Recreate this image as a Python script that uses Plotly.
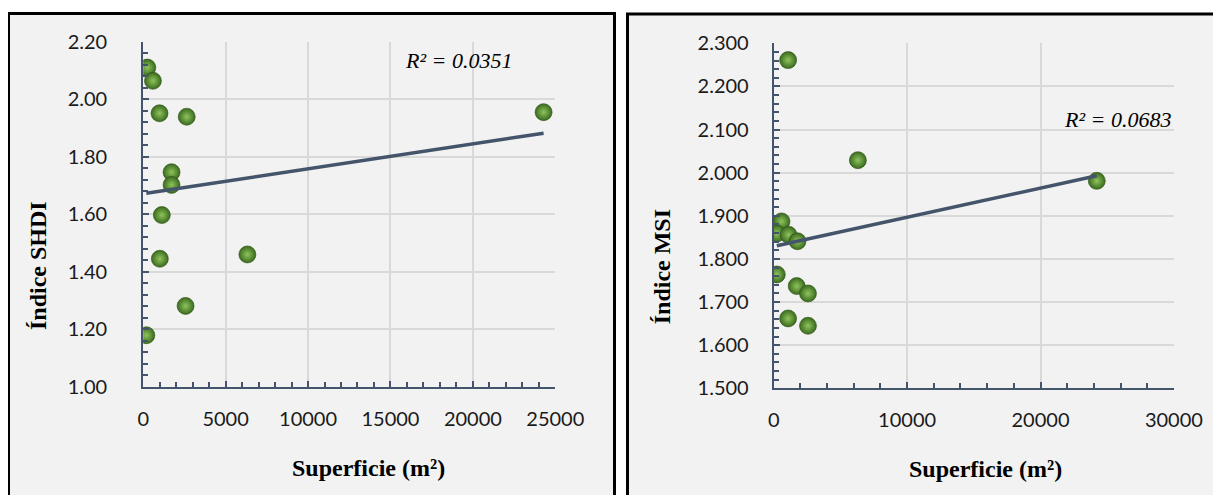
import numpy as np
import plotly.graph_objects as go

# ---- data ----
shdi_area = [250, 590, 990, 2640, 24290, 1720, 1720, 1130, 1010, 6320, 2570, 190]
shdi_value = [2.110, 2.064, 1.951, 1.939, 1.955, 1.746, 1.702, 1.597, 1.445, 1.460, 1.281, 1.179]
shdi_r2 = "R² = 0.0351"

msi_area = [1081, 6310, 24220, 584, 234, 1110, 1782, 234, 1724, 2570, 1081, 2570]
msi_value = [2.261, 2.029, 1.981, 1.887, 1.859, 1.856, 1.841, 1.764, 1.737, 1.720, 1.662, 1.645]
msi_r2 = "R² = 0.0683"

x_title = "Superficie (m²)"
y_title_left = "Índice SHDI"
y_title_right = "Índice MSI"

# page body has an 8px margin; size the figure to fit the 1221x495 window
OFF = 8
FW, FH = 1221 - OFF, 495 - OFF


def xp(px):
    return (px - OFF) / FW


def yp(py):
    return 1 - (py - OFF) / FH


AXIS = "#44546a"
GRID = "#d9d9d9"
BG = "#f2f2f2"
TICKFONT = dict(family="Lato, Carlito, Calibri, sans-serif", size=20, color="#1a1a1a")
TITLEFONT = dict(family="Liberation Serif, Times New Roman, serif", size=24, color="#000000")


def trend(xs, ys):
    xs = np.asarray(xs, float)
    ys = np.asarray(ys, float)
    m, b = np.polyfit(xs, ys, 1)
    xx = np.array([xs.min(), xs.max()])
    return xx, m * xx + b


marker = dict(size=17, color="#3a6a1e",
              gradient=dict(type="radial", color="#8fc45c"),
              line=dict(width=0.6, color="#2b5014"))

fig = go.Figure()
fig.add_trace(go.Scatter(x=shdi_area, y=shdi_value, mode="markers", marker=marker,
                         xaxis="x", yaxis="y", showlegend=False))
tx, ty = trend(shdi_area, shdi_value)
fig.add_trace(go.Scatter(x=tx, y=ty, mode="lines", line=dict(color=AXIS, width=3.5),
                         xaxis="x", yaxis="y", showlegend=False))

fig.add_trace(go.Scatter(x=msi_area, y=msi_value, mode="markers", marker=marker,
                         xaxis="x2", yaxis="y2", showlegend=False))
tx2, ty2 = trend(msi_area, msi_value)
fig.add_trace(go.Scatter(x=tx2, y=ty2, mode="lines", line=dict(color=AXIS, width=3.5),
                         xaxis="x2", yaxis="y2", showlegend=False))


def axis_common():
    return dict(showline=True, linecolor=AXIS, linewidth=2, showgrid=True, gridcolor=GRID,
                gridwidth=1.5, zeroline=False, ticks="inside", tickcolor=AXIS, ticklen=6,
                tickwidth=1.5, tickfont=TICKFONT, automargin=False)


xa = axis_common()
xa.update(domain=[xp(143.2), xp(555.3)], range=[0, 25000], dtick=5000, tickformat="d",
          anchor="y", ticklabelstandoff=13,
          minor=dict(dtick=1000, ticks="inside", ticklen=5, tickcolor=AXIS, tickwidth=1.5, showgrid=False))
ya = axis_common()
ya.update(domain=[yp(386.7), yp(41.7)], range=[1.0, 2.2], dtick=0.2, tickformat=".2f",
          anchor="x", ticklabelstandoff=30,
          minor=dict(dtick=0.04, ticks="inside", ticklen=5, tickcolor=AXIS, tickwidth=1.5, showgrid=False))
xa2 = axis_common()
xa2.update(domain=[xp(773.7), xp(1173.9)], range=[0, 30000], dtick=10000, tickformat="d",
           anchor="y2", ticklabelstandoff=13,
           minor=dict(dtick=2000, ticks="inside", ticklen=5, tickcolor=AXIS, tickwidth=1.5, showgrid=False))
ya2 = axis_common()
ya2.update(domain=[yp(388.3), yp(43.3)], range=[1.5, 2.3], dtick=0.1, tickformat=".3f",
           anchor="x2", ticklabelstandoff=19,
           minor=dict(dtick=0.02, ticks="inside", ticklen=5, tickcolor=AXIS, tickwidth=1.5, showgrid=False))

shapes = [
    dict(type="rect", xref="paper", yref="paper", layer="below",
         x0=xp(8.5), x1=xp(614.5), y0=-0.05, y1=yp(13.5),
         line=dict(color="#000000", width=3), fillcolor=BG),
    dict(type="rect", xref="paper", yref="paper", layer="below",
         x0=xp(627.5), x1=1.05, y0=-0.05, y1=yp(14),
         line=dict(color="#000000", width=3), fillcolor=BG),
]

annotations = [
    dict(text="<i>" + shdi_r2 + "</i>", xref="x domain", yref="y domain", x=0.63, y=0.945,
         xanchor="left", yanchor="middle", showarrow=False,
         font=dict(family="Liberation Serif, Times New Roman, serif", size=22, color="#000")),
    dict(text="<i>" + msi_r2 + "</i>", xref="x2 domain", yref="y2 domain", x=0.999, y=0.78,
         xanchor="right", yanchor="middle", showarrow=False,
         font=dict(family="Liberation Serif, Times New Roman, serif", size=22, color="#000")),
    dict(text="<b>" + y_title_left + "</b>", xref="paper", yref="paper", x=xp(38), y=yp(266),
         textangle=-90, showarrow=False, font=TITLEFONT, xanchor="center", yanchor="middle"),
    dict(text="<b>" + y_title_right + "</b>", xref="paper", yref="paper", x=xp(661.6), y=yp(266.7),
         textangle=-90, showarrow=False, font=TITLEFONT, xanchor="center", yanchor="middle"),
    dict(text="<b>" + x_title + "</b>", xref="paper", yref="paper", x=xp(368), y=yp(468),
         showarrow=False, font=TITLEFONT, xanchor="center", yanchor="middle"),
    dict(text="<b>" + x_title + "</b>", xref="paper", yref="paper", x=xp(985), y=yp(469),
         showarrow=False, font=TITLEFONT, xanchor="center", yanchor="middle"),
]

fig.update_layout(width=FW, height=FH, margin=dict(l=0, r=0, t=0, b=0, pad=0, autoexpand=False),
                  paper_bgcolor="#ffffff", plot_bgcolor=BG,
                  xaxis=xa, yaxis=ya, xaxis2=xa2, yaxis2=ya2,
                  shapes=shapes, annotations=annotations)

fig.write_html("out.html")
